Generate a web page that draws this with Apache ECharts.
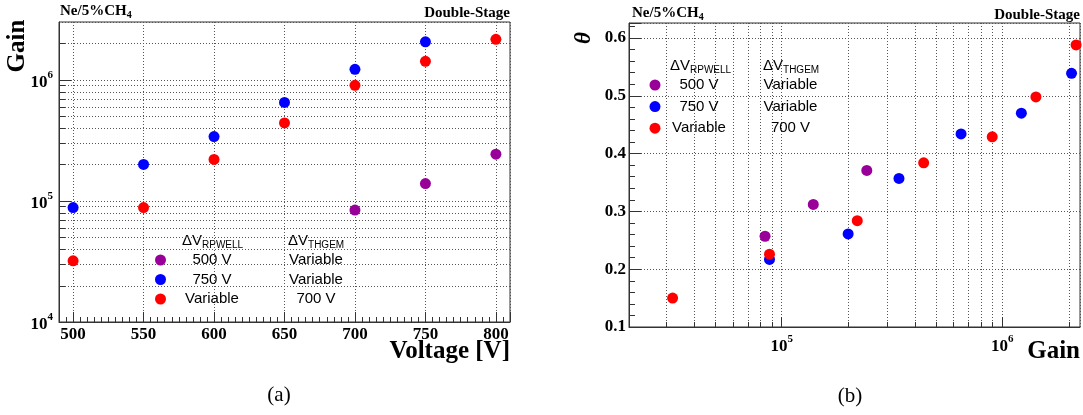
<!DOCTYPE html>
<html><head><meta charset="utf-8">
<script src="https://cdn.jsdelivr.net/npm/echarts@6/dist/echarts.min.js"></script>
<style>html,body{margin:0;padding:0;background:#fff}#c{width:1083px;height:415px}</style>
</head><body><div id="c"></div>
<script>
// ---------- data ----------
const volt500 = [700, 750, 800];
const volt750 = [500, 550, 600, 650, 700, 750];
const voltVar = [500, 550, 600, 650, 700, 750, 800];
const gain500 = [8.4e4, 1.39e5, 2.43e5];
const gain750 = [8.8e4, 2.0e5, 3.4e5, 6.5e5, 1.22e6, 2.06e6];
const gainVar = [3.2e4, 8.8e4, 2.2e5, 4.4e5, 9.0e5, 1.42e6, 2.16e6];
const theta500 = [0.257, 0.312, 0.371];
const theta750 = [0.217, 0.261, 0.357, 0.434, 0.470, 0.539];
const thetaVar = [0.150, 0.226, 0.284, 0.384, 0.429, 0.498, 0.588];
const seriesNames = ['500 V', '750 V', 'Variable'];
const thgemLabels = ['Variable', 'Variable', '700 V'];
const seriesColors = ['#990099', '#0000ff', '#ff0000'];

// axis ranges
const L_X = [490, 810], L_Y = [1e4, 3e6];
const R_X = [2.03e4, 2.25e6], R_Y = [0.1, 0.626];

// ---------- helpers ----------
const SERIF = 'Liberation Serif', SANS = 'Liberation Sans';
const GRID_C = '#555', AXIS_C = '#333';
const pts = (xs, ys) => xs.map((x, i) => [x, ys[i]]);
function logMinors(lo, hi) {
  const out = [];
  for (let e = Math.floor(Math.log10(lo)); e <= Math.ceil(Math.log10(hi)); e++)
    for (let m = 2; m <= 9; m++) { const v = m * Math.pow(10, e); if (v > lo && v < hi) out.push(v); }
  return out;
}
function powLabel(v) {
  const l = Math.log10(v), e = Math.round(l);
  if (Math.abs(l - e) > 1e-6) return '';
  return '{b|10}{s|' + e + '}';
}
const powRich = {
  b: { fontFamily: SERIF, fontWeight: 'bold', fontSize: 17, color: '#000', lineHeight: 26 },
  s: { fontFamily: SERIF, fontWeight: 'bold', fontSize: 11, color: '#000', lineHeight: 12, verticalAlign: 'top' }
};
function hMinor(params, api) {
  const cs = params.coordSys;
  const y = Math.round(api.coord([api.value(0), api.value(1)])[1]) + 0.5;
  return { type: 'group', children: [
    { type: 'line', shape: { x1: cs.x, y1: y, x2: cs.x + cs.width, y2: y }, style: { stroke: GRID_C, lineWidth: 1, lineDash: [1, 2] } },
    { type: 'line', shape: { x1: cs.x, y1: y, x2: cs.x + 6, y2: y }, style: { stroke: AXIS_C, lineWidth: 1 } }
  ]};
}
function vMinor(params, api) {
  const cs = params.coordSys;
  const x = Math.round(api.coord([api.value(0), api.value(1)])[0]) + 0.5;
  const yb = cs.y + cs.height;
  return { type: 'group', children: [
    { type: 'line', shape: { x1: x, y1: cs.y, x2: x, y2: yb }, style: { stroke: GRID_C, lineWidth: 1, lineDash: [1, 2] } },
    { type: 'line', shape: { x1: x, y1: yb, x2: x, y2: yb - 5 }, style: { stroke: AXIS_C, lineWidth: 1 } }
  ]};
}
const tickLabelStyle = { fontFamily: SERIF, fontWeight: 'bold', fontSize: 17, color: '#000' };
const splitDotted = { show: true, lineStyle: { color: GRID_C, width: 1, type: [1, 2] } };
const axisLineStyle = { show: true, lineStyle: { color: AXIS_C, width: 1 } };

const legendRich = (wa, wb) => ({
  a: { fontFamily: SANS, fontSize: 15, color: '#000', width: wa, align: 'center', lineHeight: 16 },
  b: { fontFamily: SANS, fontSize: 15, color: '#000', width: wb, align: 'center', lineHeight: 16 }
});
const legendFmt = name => { const i = seriesNames.indexOf(name); return '{a|' + name + '}{b|' + thgemLabels[i] + '}'; };

const subRich = (size, subSize, family, weight) => ({
  m: { fontFamily: family, fontWeight: weight, fontSize: size, color: '#000', lineHeight: size + 4 },
  s: { fontFamily: family, fontWeight: weight, fontSize: subSize, color: '#000', lineHeight: 8, verticalAlign: 'bottom' }
});
function txt(x, y, text, extra) {
  return Object.assign({ type: 'text', x: x, y: y, silent: true, style: Object.assign({ text: text, fill: '#000' }, extra.style || {}) },
    extra.rotation !== undefined ? { rotation: extra.rotation } : {});
}

// ---------- chart ----------
const chart = echarts.init(document.getElementById('c'), null, { renderer: 'canvas' });
const scatterL = [
  { name: seriesNames[0], data: pts(volt500, gain500) },
  { name: seriesNames[1], data: pts(volt750, gain750) },
  { name: seriesNames[2], data: pts(voltVar, gainVar) }
];
const scatterR = [
  { name: seriesNames[0], data: pts(gain500, theta500) },
  { name: seriesNames[1], data: pts(gain750, theta750) },
  { name: seriesNames[2], data: pts(gainVar, thetaVar) }
];
const series = [];
series.push({ type: 'custom', xAxisIndex: 0, yAxisIndex: 0, z: 1, silent: true, renderItem: hMinor,
  data: logMinors(L_Y[0], L_Y[1]).map(v => [L_X[0], v]) });
series.push({ type: 'custom', xAxisIndex: 1, yAxisIndex: 1, z: 1, silent: true, renderItem: vMinor,
  data: logMinors(R_X[0], R_X[1]).map(v => [v, R_Y[0]]) });
scatterL.forEach((s, i) => series.push({ type: 'scatter', name: s.name, xAxisIndex: 0, yAxisIndex: 0, z: 3,
  symbol: 'circle', symbolSize: 11, itemStyle: { color: seriesColors[i], opacity: 1 }, data: s.data }));
scatterR.forEach((s, i) => series.push({ type: 'scatter', name: s.name, xAxisIndex: 1, yAxisIndex: 1, z: 3,
  symbol: 'circle', symbolSize: 11, itemStyle: { color: seriesColors[i], opacity: 1 }, data: s.data }));

const option = {
  animation: false,
  backgroundColor: '#fff',
  grid: [
    { left: 59, top: 22, width: 451, height: 300, show: true, borderColor: AXIS_C, borderWidth: 1, backgroundColor: 'transparent', containLabel: false, outerBoundsMode: 'none' },
    { left: 629, top: 23, width: 451, height: 304, show: true, borderColor: AXIS_C, borderWidth: 1, backgroundColor: 'transparent', containLabel: false, outerBoundsMode: 'none' }
  ],
  xAxis: [
    { type: 'value', gridIndex: 0, min: L_X[0], max: L_X[1], splitNumber: 6,
      axisLine: axisLineStyle, axisTick: { show: true, inside: true, length: 10, lineStyle: { color: AXIS_C } },
      minorTick: { show: true, splitNumber: 10, length: 5, lineStyle: { color: AXIS_C } },
      axisLabel: Object.assign({ margin: 4, showMinLabel: false, showMaxLabel: false }, tickLabelStyle),
      splitLine: splitDotted },
    { type: 'log', logBase: 10, gridIndex: 1, min: R_X[0], max: R_X[1],
      axisLine: axisLineStyle, axisTick: { show: true, inside: true, length: 10, lineStyle: { color: AXIS_C } },
      axisLabel: { margin: 7, formatter: powLabel, rich: powRich, showMinLabel: false, showMaxLabel: false },
      splitLine: splitDotted }
  ],
  yAxis: [
    { type: 'log', logBase: 10, gridIndex: 0, min: L_Y[0], max: L_Y[1],
      axisLine: axisLineStyle, axisTick: { show: true, inside: true, length: 12, lineStyle: { color: AXIS_C } },
      axisLabel: { margin: 6, formatter: powLabel, rich: powRich, padding: [6, 0, 0, 0], showMaxLabel: false },
      splitLine: splitDotted },
    { type: 'value', gridIndex: 1, min: R_Y[0], max: R_Y[1], interval: 0.1,
      axisLine: axisLineStyle, axisTick: { show: true, inside: true, length: 12, lineStyle: { color: AXIS_C } },
      minorTick: { show: true, splitNumber: 5, length: 6, lineStyle: { color: AXIS_C } },
      axisLabel: Object.assign({ margin: 3, showMaxLabel: false,
        formatter: v => (Math.abs(v * 10 - Math.round(v * 10)) < 1e-6 ? v.toFixed(1) : '') }, tickLabelStyle),
      splitLine: splitDotted }
  ],
  legend: [
    { left: 150, top: 247.5, padding: 5, orient: 'vertical', icon: 'circle', itemWidth: 11, itemHeight: 11, itemGap: 4.5,
      data: seriesNames, selectedMode: false, formatter: legendFmt,
      textStyle: { rich: legendRich(82, 126) } },
    { left: 644.5, top: 72.5, padding: 5, orient: 'vertical', icon: 'circle', itemWidth: 11, itemHeight: 11, itemGap: 6.6,
      data: seriesNames, selectedMode: false, formatter: legendFmt,
      textStyle: { rich: legendRich(67, 116) } }
  ],
  graphic: [
    // left panel texts
    txt(60, 11, '{m|Ne/5%CH}{s|4}', { style: { rich: subRich(15, 10, SERIF, 'bold'), align: 'left', verticalAlign: 'middle' } }),
    txt(510, 13, 'Double-Stage', { style: { font: 'bold 15px "Liberation Serif"', align: 'right', verticalAlign: 'middle' } }),
    txt(18, 46, 'Gain', { rotation: Math.PI / 2, style: { font: 'bold 25px "Liberation Serif"', align: 'center', verticalAlign: 'middle' } }),
    txt(510, 352, 'Voltage [V]', { style: { font: 'bold 25px "Liberation Serif"', align: 'right', verticalAlign: 'middle' } }),
    txt(182, 241, '{m|ΔV}{s|RPWELL}', { style: { rich: subRich(15, 10, SANS, 'normal'), align: 'left', verticalAlign: 'middle' } }),
    txt(288, 241, '{m|ΔV}{s|THGEM}', { style: { rich: subRich(15, 10, SANS, 'normal'), align: 'left', verticalAlign: 'middle' } }),
    txt(279, 395, '(a)', { style: { font: '21px "Liberation Serif"', align: 'center', verticalAlign: 'middle' } }),
    // right panel texts
    txt(632, 13, '{m|Ne/5%CH}{s|4}', { style: { rich: subRich(15, 10, SERIF, 'bold'), align: 'left', verticalAlign: 'middle' } }),
    txt(1080, 15, 'Double-Stage', { style: { font: 'bold 15px "Liberation Serif"', align: 'right', verticalAlign: 'middle' } }),
    txt(584, 38, 'θ', { rotation: Math.PI / 2, style: { font: 'italic bold 23px "Liberation Serif"', align: 'center', verticalAlign: 'middle' } }),
    txt(1080, 352, 'Gain', { style: { font: 'bold 25px "Liberation Serif"', align: 'right', verticalAlign: 'middle' } }),
    txt(670, 65.5, '{m|ΔV}{s|RPWELL}', { style: { rich: subRich(15, 10, SANS, 'normal'), align: 'left', verticalAlign: 'middle' } }),
    txt(763, 65.5, '{m|ΔV}{s|THGEM}', { style: { rich: subRich(15, 10, SANS, 'normal'), align: 'left', verticalAlign: 'middle' } }),
    txt(850, 396, '(b)', { style: { font: '21px "Liberation Serif"', align: 'center', verticalAlign: 'middle' } })
  ],
  series: series
};
chart.setOption(option);
</script></body></html>
